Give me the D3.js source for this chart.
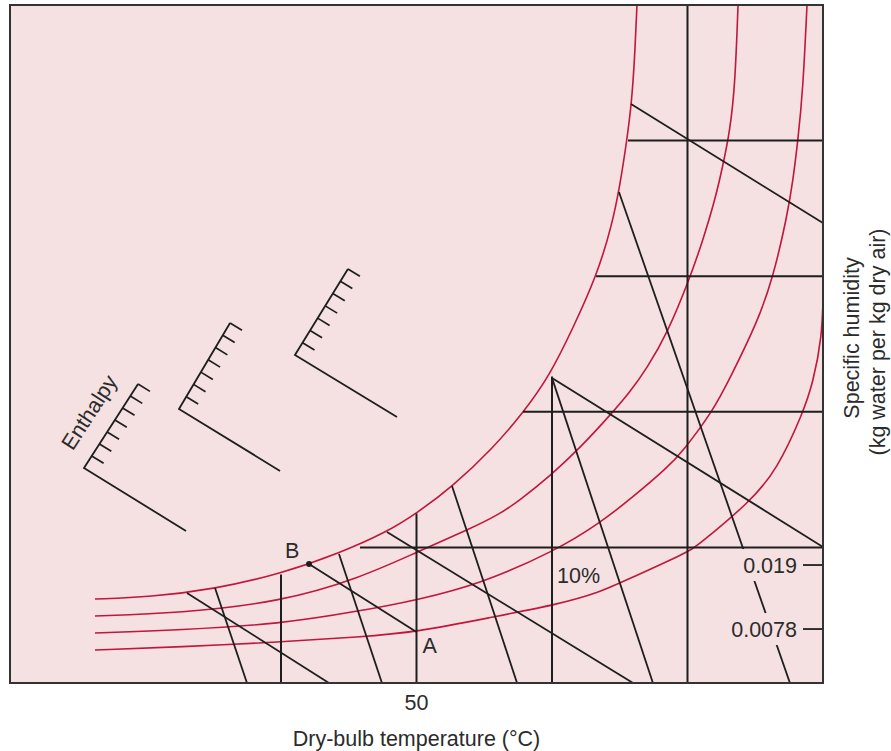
<!DOCTYPE html>
<html>
<head>
<meta charset="utf-8">
<script src="https://cdn.jsdelivr.net/npm/d3@7"></script>
<style>
  body { margin: 0; background: #ffffff; }
  svg { display: block; }
  text { font-family: "Liberation Sans", Arial, Helvetica, sans-serif; fill: #2b2b2b; }
</style>
</head>
<body>
<svg id="chart" width="891" height="751"></svg>
<script>
// ---------- DATA (dry-bulb temperature in °C, specific humidity in schematic grid units) ----------
const temperatureDomain = [20, 80];
const humidityDomain = [0, 5];

const xTickValues = [50];
const xTickLabels = ["50"];

// specific-humidity tick labels on the right edge
const humidityTickValues = [0.870, 0.398];
const humidityTickLabels = ["0.019", "0.0078"];

// constant dry-bulb lines: temperature and the humidity where they meet the saturation curve
const dryBulbLines = [40, 50, 60, 70];
const dryBulbTops = [0.80, 1.25, 2.26, 5.0];

// constant specific-humidity lines: level and the temperature where they start on the saturation curve
const humidityLines = [1, 2, 3, 4];
const humidityStarts = [45.83, 57.86, 63.25, 65.61];

// constant-enthalpy (wet-bulb) lines
const enthalpyLines = [
  [[42.07, 0.878], [50.0, 0.376]],   // B -> A
  [[33.06, 0.664], [43.54, 0.0]],
  [[47.82, 1.114], [65.98, 0.0]],
  [[60.0, 2.25], [80.0, 1.003]],
  [[65.83, 4.27], [80.0, 3.392]]
];

// specific-volume lines (steep)
const volumeLines = [
  [[35.13, 0.70], [37.49, 0.0]],
  [[44.28, 0.951], [47.45, 0.0]],
  [[52.62, 1.453], [57.42, 0.0]],
  [[60.0, 2.25], [67.45, 0.0]],
  [[64.94, 3.621], [77.56, 0.0]]
];

// relative-humidity curves (saturation curve first)
const rhCurve100 = [[26.27,0.619],[30.33,0.634],[35.13,0.693],[39.93,0.804],[44.35,0.959],[47.82,1.114],[50.04,1.254],[52.62,1.445],[55.65,1.733],[57.86,1.991],[59.85,2.271],[61.55,2.618],[63.32,3.009],[64.43,3.378],[65.02,3.673],[65.53,4.005],[65.90,4.300],[66.13,4.668],[66.27,5.0]];
const rhCurve2 = [[26.27,0.494],[32.55,0.516],[39.93,0.597],[45.83,0.774],[50.04,0.966],[53.95,1.136],[56.16,1.246],[57.64,1.350],[59.85,1.527],[62.07,1.733],[64.50,1.999],[65.76,2.146],[67.01,2.323],[68.49,2.574],[70.18,2.987],[71.14,3.267],[72.03,3.562],[72.62,3.820],[73.14,4.078],[73.51,4.410],[73.73,5.0]];
const rhCurve3 = [[26.27,0.369],[32.55,0.391],[39.93,0.435],[45.83,0.531],[50.04,0.612],[54.69,0.730],[60.22,0.973],[63.54,1.180],[65.98,1.372],[68.49,1.586],[69.67,1.711],[71.88,2.006],[73.14,2.249],[75.13,2.655],[76.31,2.987],[77.34,3.437],[77.79,3.709],[78.15,4.004],[78.52,4.373],[78.82,5.0]];
const rhCurve4 = [[26.27,0.243],[32.55,0.266],[39.93,0.302],[45.83,0.339],[50.04,0.376],[55.65,0.487],[60.59,0.583],[63.54,0.671],[65.02,0.738],[70.04,0.966],[70.70,1.010],[74.61,1.335],[76.60,1.571],[78.52,1.991],[79.26,2.213],[79.93,2.552],[80.04,2.898],[80.11,3.562]];
const rhCurves = [rhCurve100, rhCurve2, rhCurve3, rhCurve4];

// enthalpy scale combs: corner, end of the long arm, top of the graduated arm
const enthalpyCombCorners = [[25.46, 1.586], [32.47, 2.021], [41.03, 2.419]];
const enthalpyCombEnds    = [[32.99, 1.121], [39.93, 1.564], [48.56, 1.962]];
const enthalpyCombTops    = [[29.45, 2.205], [36.24, 2.655], [44.94, 3.053]];
const combTickCount = 7;

// labelled state points
const pointB = [42.07, 0.878];
const pointA = [50.0, 0.376];
const rhLabel = { t: 60, w: 0.74, text: "10%" };

const xTitle = "Dry-bulb temperature (\u00B0C)";
const yTitle1 = "Specific humidity";
const yTitle2 = "(kg water per kg dry air)";
const enthalpyTitle = "Enthalpy";

// ---------- DRAWING ----------
const svg = d3.select("#chart");
const plot = { left: 10, right: 823, top: 5, bottom: 683 };
const bg = "#f5e1e1";
const ink = "#1e1e1e";
const red = "#c2163c";
const fontSize = 21.5;

const x = d3.scaleLinear().domain(temperatureDomain).range([plot.left, plot.right]);
const y = d3.scaleLinear().domain(humidityDomain).range([plot.bottom, plot.top]);

svg.append("defs").append("clipPath").attr("id", "plotClip")
  .append("rect").attr("x", plot.left).attr("y", plot.top)
  .attr("width", plot.right - plot.left).attr("height", plot.bottom - plot.top);

svg.append("rect")
  .attr("x", plot.left).attr("y", plot.top)
  .attr("width", plot.right - plot.left).attr("height", plot.bottom - plot.top)
  .attr("fill", bg);

const g = svg.append("g").attr("clip-path", "url(#plotClip)");

// relative humidity curves
const curveLine = d3.line().x(d => x(d[0])).y(d => y(d[1])).curve(d3.curveBasis);
g.selectAll("path.rh").data(rhCurves).join("path")
  .attr("class", "rh")
  .attr("d", curveLine)
  .attr("fill", "none").attr("stroke", red).attr("stroke-width", 1.6);

// dry-bulb verticals
g.selectAll("line.db").data(dryBulbLines).join("line")
  .attr("x1", d => x(d)).attr("x2", d => x(d))
  .attr("y1", (d, i) => y(dryBulbTops[i])).attr("y2", y(0))
  .attr("stroke", ink).attr("stroke-width", 2);

// specific-humidity horizontals
g.selectAll("line.sh").data(humidityLines).join("line")
  .attr("y1", d => y(d)).attr("y2", d => y(d))
  .attr("x1", (d, i) => x(humidityStarts[i])).attr("x2", x(80))
  .attr("stroke", ink).attr("stroke-width", 2);

// enthalpy and volume lines
const segs = enthalpyLines.concat(volumeLines);
g.selectAll("line.seg").data(segs).join("line")
  .attr("x1", d => x(d[0][0])).attr("y1", d => y(d[0][1]))
  .attr("x2", d => x(d[1][0])).attr("y2", d => y(d[1][1]))
  .attr("stroke", ink).attr("stroke-width", 1.8);

// enthalpy combs
enthalpyCombCorners.forEach((c, i) => {
  const cx = x(c[0]), cy = y(c[1]);
  const ex = x(enthalpyCombEnds[i][0]), ey = y(enthalpyCombEnds[i][1]);
  const tx = x(enthalpyCombTops[i][0]), ty = y(enthalpyCombTops[i][1]);
  g.append("path")
    .attr("d", `M${ex},${ey}L${cx},${cy}L${tx},${ty}`)
    .attr("fill", "none").attr("stroke", ink).attr("stroke-width", 1.8);
  const len = Math.hypot(ex - cx, ey - cy);
  const ux = (ex - cx) / len, uy = (ey - cy) / len;
  const tickLen = 14;
  const ticks = d3.range(1, combTickCount + 1).map(k => k / combTickCount);
  g.selectAll(null).data(ticks).join("line")
    .attr("x1", f => cx + (tx - cx) * f).attr("y1", f => cy + (ty - cy) * f)
    .attr("x2", f => cx + (tx - cx) * f + ux * tickLen)
    .attr("y2", f => cy + (ty - cy) * f + uy * tickLen)
    .attr("stroke", ink).attr("stroke-width", 1.7);
  if (i === 0) {
    const mx = (cx + tx) / 2, my = (cy + ty) / 2;
    const ang = Math.atan2(ty - cy, tx - cx) * 180 / Math.PI;
    svg.append("text")
      .attr("transform", `translate(${mx - ux * 24},${my - uy * 24}) rotate(${ang})`)
      .attr("text-anchor", "middle").attr("dominant-baseline", "middle")
      .attr("font-size", fontSize).text(enthalpyTitle);
  }
});

// point B dot
g.append("circle").attr("cx", x(pointB[0])).attr("cy", y(pointB[1])).attr("r", 3).attr("fill", ink);

// humidity tick labels with background boxes (interrupting the line behind)
const hLabels = svg.append("g");
hLabels.selectAll("rect").data(humidityTickValues).join("rect")
  .attr("x", plot.right - 85).attr("y", d => y(d) - 16)
  .attr("width", 62).attr("height", 32).attr("fill", bg);
hLabels.selectAll("line").data(humidityTickValues).join("line")
  .attr("x1", plot.right - 20).attr("x2", plot.right)
  .attr("y1", d => y(d)).attr("y2", d => y(d))
  .attr("stroke", ink).attr("stroke-width", 1.8);
hLabels.selectAll("text").data(humidityTickValues).join("text")
  .attr("x", plot.right - 26).attr("y", d => y(d) + 7.5)
  .attr("text-anchor", "end").attr("font-size", fontSize)
  .text((d, i) => humidityTickLabels[i]);

// annotations
svg.append("text").attr("x", x(pointB[0]) - 24).attr("y", y(pointB[1]) - 6)
  .attr("font-size", fontSize).text("B");
svg.append("text").attr("x", x(pointA[0]) + 6).attr("y", y(pointA[1]) + 21)
  .attr("font-size", fontSize).text("A");
svg.append("text").attr("x", x(rhLabel.t) + 5).attr("y", y(rhLabel.w))
  .attr("font-size", fontSize).text(rhLabel.text);

// frame
svg.append("rect")
  .attr("x", plot.left).attr("y", plot.top)
  .attr("width", plot.right - plot.left).attr("height", plot.bottom - plot.top)
  .attr("fill", "none").attr("stroke", "#333").attr("stroke-width", 2);

// x axis tick label and title
svg.selectAll("text.xt").data(xTickValues).join("text")
  .attr("class", "xt")
  .attr("x", d => x(d)).attr("y", plot.bottom + 27)
  .attr("text-anchor", "middle").attr("font-size", fontSize)
  .text((d, i) => xTickLabels[i]);
svg.append("text").attr("x", x(50)).attr("y", plot.bottom + 63)
  .attr("text-anchor", "middle").attr("font-size", fontSize).text(xTitle);

// right-hand titles
svg.append("text").attr("transform", `translate(859,338) rotate(-90)`)
  .attr("text-anchor", "middle").attr("font-size", fontSize).text(yTitle1);
svg.append("text").attr("transform", `translate(885,342) rotate(-90)`)
  .attr("text-anchor", "middle").attr("font-size", fontSize).text(yTitle2);
</script>
</body>
</html>
